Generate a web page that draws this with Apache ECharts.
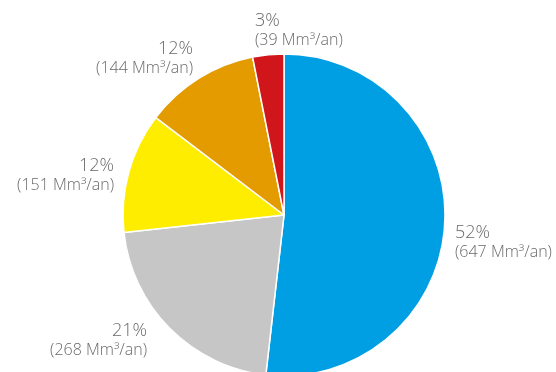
<!DOCTYPE html>
<html>
<head>
<meta charset="utf-8">
<script src="https://cdn.jsdelivr.net/npm/echarts@6/dist/echarts.min.js"></script>
<style>html,body{margin:0;padding:0;background:#fff}#c{width:556px;height:372px}</style>
</head>
<body>
<div id="c"></div>
<script>
const categories = ['A', 'B', 'C', 'D', 'E'];
const values = [647, 268, 151, 144, 39];
const percentLabels = ['52%', '21%', '12%', '12%', '3%'];
const volumeLabels = ['(647 Mm³/an)', '(268 Mm³/an)', '(151 Mm³/an)', '(144 Mm³/an)', '(39 Mm³/an)'];

const colors = ['#009FE3', '#C6C6C6', '#FFED00', '#E39B00', '#D0161B'];
const labelPlacement = [
  {x: 455, y: 222, align: 'left'},
  {x: 147, y: 320, align: 'right'},
  {x: 114, y: 155, align: 'right'},
  {x: 193, y: 38, align: 'right'},
  {x: 255, y: 10, align: 'left'}
];

const chart = echarts.init(document.getElementById('c'), null, {renderer: 'canvas'});
chart.setOption({
  animation: false,
  series: [{
    type: 'pie',
    center: [284, 215],
    radius: 161,
    startAngle: 90,
    clockwise: true,
    itemStyle: {borderColor: '#fff', borderWidth: 1.5},
    labelLine: {show: false},
    label: {
      show: true,
      position: 'outside',
      overflow: 'none',
      edgeDistance: 0,
      formatter: p => '{a|' + percentLabels[p.dataIndex] + '}\n{b|' + volumeLabels[p.dataIndex] + '}',
      rich: {
        a: {fontFamily: 'Open Sans', fontWeight: 300, fontSize: 18, lineHeight: 21, color: '#6a6a6a'},
        b: {fontFamily: 'Open Sans', fontWeight: 300, fontSize: 16, lineHeight: 19, color: '#6a6a6a'}
      }
    },
    labelLayout: p => {
      const s = labelPlacement[p.dataIndex];
      return {x: s.x, y: s.y, align: s.align, verticalAlign: 'top'};
    },
    data: categories.map((c, i) => ({name: c, value: values[i], itemStyle: {color: colors[i]}, label: {align: labelPlacement[i].align}}))
  }]
});
</script>
</body>
</html>
